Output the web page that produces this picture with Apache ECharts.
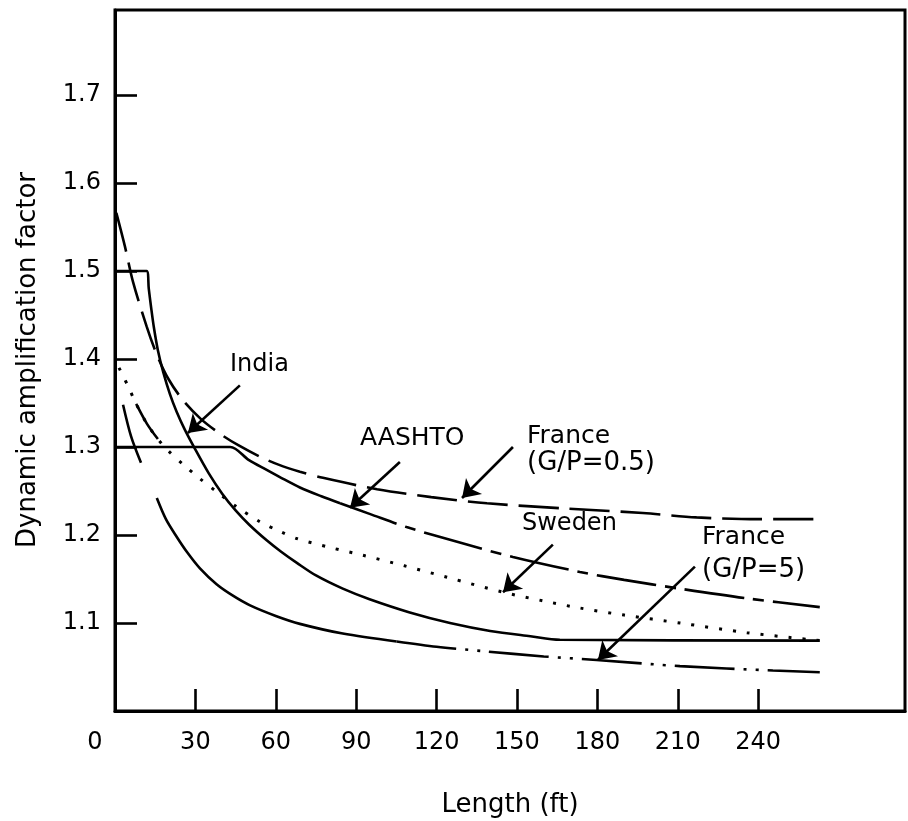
<!DOCTYPE html>
<html>
<head>
<meta charset="utf-8">
<script src="https://cdn.jsdelivr.net/npm/echarts@6/dist/echarts.min.js"></script>
<style>
html,body{margin:0;padding:0;background:#fff;}
#chart{width:908px;height:821px;}
</style>
</head>
<body>
<div id="chart"></div>
<script>
// ---- data (Length in ft, dynamic amplification factor) ----
const lengthTicks = [0, 30, 60, 90, 120, 150, 180, 210, 240];
const factorTicks = [1.1, 1.2, 1.3, 1.4, 1.5, 1.6, 1.7];

const india = [[0,1.5],[11.8,1.5],[12.6,1.48],[13.5,1.458],[14.5,1.436],[16,1.41],[18,1.385],[20.5,1.36],[23,1.34],[26,1.32],[30,1.297],[35,1.27],[40,1.247],[45,1.228],[50,1.212],[56.6,1.194],[62,1.181],[68,1.168],[75,1.154],[85,1.139],[95,1.127],[110,1.112],[125,1.1],[140,1.091],[155,1.085],[166,1.081],[263,1.08]];

const franceGP05 = [[0.5,1.566],[3.7,1.528],[6.7,1.488],[11.8,1.437],[15.6,1.405],[20,1.377],[25.4,1.353],[32,1.332],[39.2,1.315],[46,1.302],[54.1,1.289],[61,1.28],[69,1.272],[77.6,1.265],[97.8,1.252],[118,1.243],[138.8,1.236],[168.7,1.23],[197,1.225],[217,1.22],[240,1.218],[263,1.218]];

const aashto = [[0,1.3],[43,1.3],[50,1.285],[56.6,1.274],[62,1.265],[69,1.254],[77,1.244],[84,1.236],[95,1.224],[108.8,1.209],[128,1.192],[148.5,1.175],[173.5,1.158],[190,1.149],[210.8,1.139],[235.8,1.128],[263,1.118]];

const sweden = [[1.5,1.39],[4.9,1.369],[7.9,1.349],[12,1.326],[16,1.309],[19.8,1.296],[25.5,1.28],[31.7,1.264],[38,1.249],[45.4,1.232],[54.1,1.215],[61.6,1.204],[67.8,1.196],[80,1.186],[92.5,1.177],[108,1.165],[123.9,1.152],[144.8,1.135],[160,1.125],[173.5,1.117],[190,1.109],[210.8,1.1],[235.8,1.089],[263,1.08]];

const franceGP5 = [[3,1.348],[6,1.312],[9.7,1.282],[15.6,1.242],[19,1.218],[23,1.198],[27,1.18],[31.7,1.162],[37.9,1.144],[44,1.131],[50.4,1.12],[60,1.108],[69,1.099],[85,1.088],[105.1,1.079],[120,1.073],[137.4,1.068],[160,1.062],[179.7,1.058],[210.8,1.051],[245.5,1.046],[263,1.044]];

// annotation arrows (data coordinates: from label toward curve)
const arrowIndia    = [[46.6,1.370],[27.2,1.316]];
const arrowAashto   = [[106.3,1.283],[87.7,1.231]];
const arrowFrance05 = [[148.5,1.300],[129.5,1.242]];
const arrowSweden   = [[163.4,1.189],[144.8,1.135]];
const arrowFrance5  = [[216.4,1.164],[180.2,1.058]];

// ---- chart ----
const FONT = 'DejaVu Sans';
function seg(data, from, to) { return data.filter(p => p[0] >= from && p[0] <= to); }
function lineSeries(name, data, dash, width) {
  return {
    name: name, type: 'line', data: data, showSymbol: false, symbol: 'none',
    smooth: 0.3, animation: false, silent: true,
    lineStyle: { color: '#000', width: width || 2.6, type: dash || 'solid', cap: 'butt' }
  };
}

const chart = echarts.init(document.getElementById('chart'), null, { renderer: 'canvas' });

const option = {
  backgroundColor: '#fff',
  animation: false,
  grid: { left: 115, top: 10, width: 790, height: 701, show: true, borderColor: '#000', borderWidth: 3, backgroundColor: 'transparent' },
  xAxis: {
    type: 'value', min: 0, max: 294.8,
    axisLine: { show: true, onZero: false, lineStyle: { color: '#000', width: 3 } },
    axisTick: { show: true, inside: true, length: 22, customValues: lengthTicks, lineStyle: { color: '#000', width: 2.6 } },
    axisLabel: {
      customValues: lengthTicks, margin: 20, color: '#000', fontFamily: FONT, fontSize: 24,
      formatter: v => v === 0 ? '{z|0}' : String(v),
      rich: { z: { padding: [0, 40, 0, 0], fontFamily: FONT, fontSize: 24, color: '#000' } }
    },
    splitLine: { show: false }
  },
  yAxis: {
    type: 'value', min: 1.0, max: 1.7966,
    axisLine: { show: true, onZero: false, lineStyle: { color: '#000', width: 3 } },
    axisTick: { show: true, inside: true, length: 22, customValues: factorTicks, lineStyle: { color: '#000', width: 2.6 } },
    axisLabel: { customValues: factorTicks, margin: 14, color: '#000', fontFamily: FONT, fontSize: 24, formatter: v => v.toFixed(1) },
    splitLine: { show: false }
  },
  series: [
    lineSeries('India', india, 'solid'),
    lineSeries('France (G/P=0.5)', franceGP05, [40, 11]),
    lineSeries('AASHTO', seg(aashto, 0, 84), 'solid'),
    lineSeries('AASHTO ', seg(aashto, 84, 300), [60, 9, 11, 9]),
    lineSeries('Sweden', sweden, [3, 11], 3),
    lineSeries('Sweden ', seg(sweden, 7.9, 16), 'solid'),
    lineSeries('France (G/P=5)', seg(franceGP5, 0, 9.7), 'solid'),
    lineSeries('France (G/P=5) ', seg(franceGP5, 15.6, 105.1), 'solid'),
    lineSeries('France (G/P=5)  ', seg(franceGP5, 105.1, 300), [60, 9, 3, 9, 3, 9]),
    {
      type: 'lines', coordinateSystem: 'cartesian2d', animation: false, silent: true,
      symbol: ['none', 'arrow'], symbolSize: [7, 17],
      lineStyle: { color: '#000', width: 2.6, opacity: 1, curveness: 0 },
      itemStyle: { color: '#000' },
      data: [arrowIndia, arrowAashto, arrowFrance05, arrowSweden, arrowFrance5].map(c => ({ coords: c }))
    }
  ],
  graphic: [
    { type: 'text', x: 28, y: 360, rotation: Math.PI / 2, style: { text: 'Dynamic amplification factor', font: '26px "DejaVu Sans"', fill: '#000', align: 'center', verticalAlign: 'middle' } },
    { type: 'text', x: 510, y: 805, style: { text: 'Length (ft)', font: '26px "DejaVu Sans"', fill: '#000', align: 'center', verticalAlign: 'middle' } },
    { type: 'text', x: 230, y: 365, style: { text: 'India', font: '24px "DejaVu Sans"', fill: '#000', align: 'left', verticalAlign: 'middle' } },
    { type: 'text', x: 360, y: 438, style: { text: 'AASHTO', font: '25px "DejaVu Sans"', fill: '#000', align: 'left', verticalAlign: 'middle' } },
    { type: 'text', x: 527, y: 436, style: { text: 'France', font: '25px "DejaVu Sans"', fill: '#000', align: 'left', verticalAlign: 'middle' } },
    { type: 'text', x: 527, y: 463, style: { text: '(G/P=0.5)', font: '26px "DejaVu Sans"', fill: '#000', align: 'left', verticalAlign: 'middle' } },
    { type: 'text', x: 522, y: 524, style: { text: 'Sweden', font: '24px "DejaVu Sans"', fill: '#000', align: 'left', verticalAlign: 'middle' } },
    { type: 'text', x: 702, y: 537, style: { text: 'France', font: '25px "DejaVu Sans"', fill: '#000', align: 'left', verticalAlign: 'middle' } },
    { type: 'text', x: 702, y: 570, style: { text: '(G/P=5)', font: '26px "DejaVu Sans"', fill: '#000', align: 'left', verticalAlign: 'middle' } }
  ]
};
chart.setOption(option);
</script>
</body>
</html>
